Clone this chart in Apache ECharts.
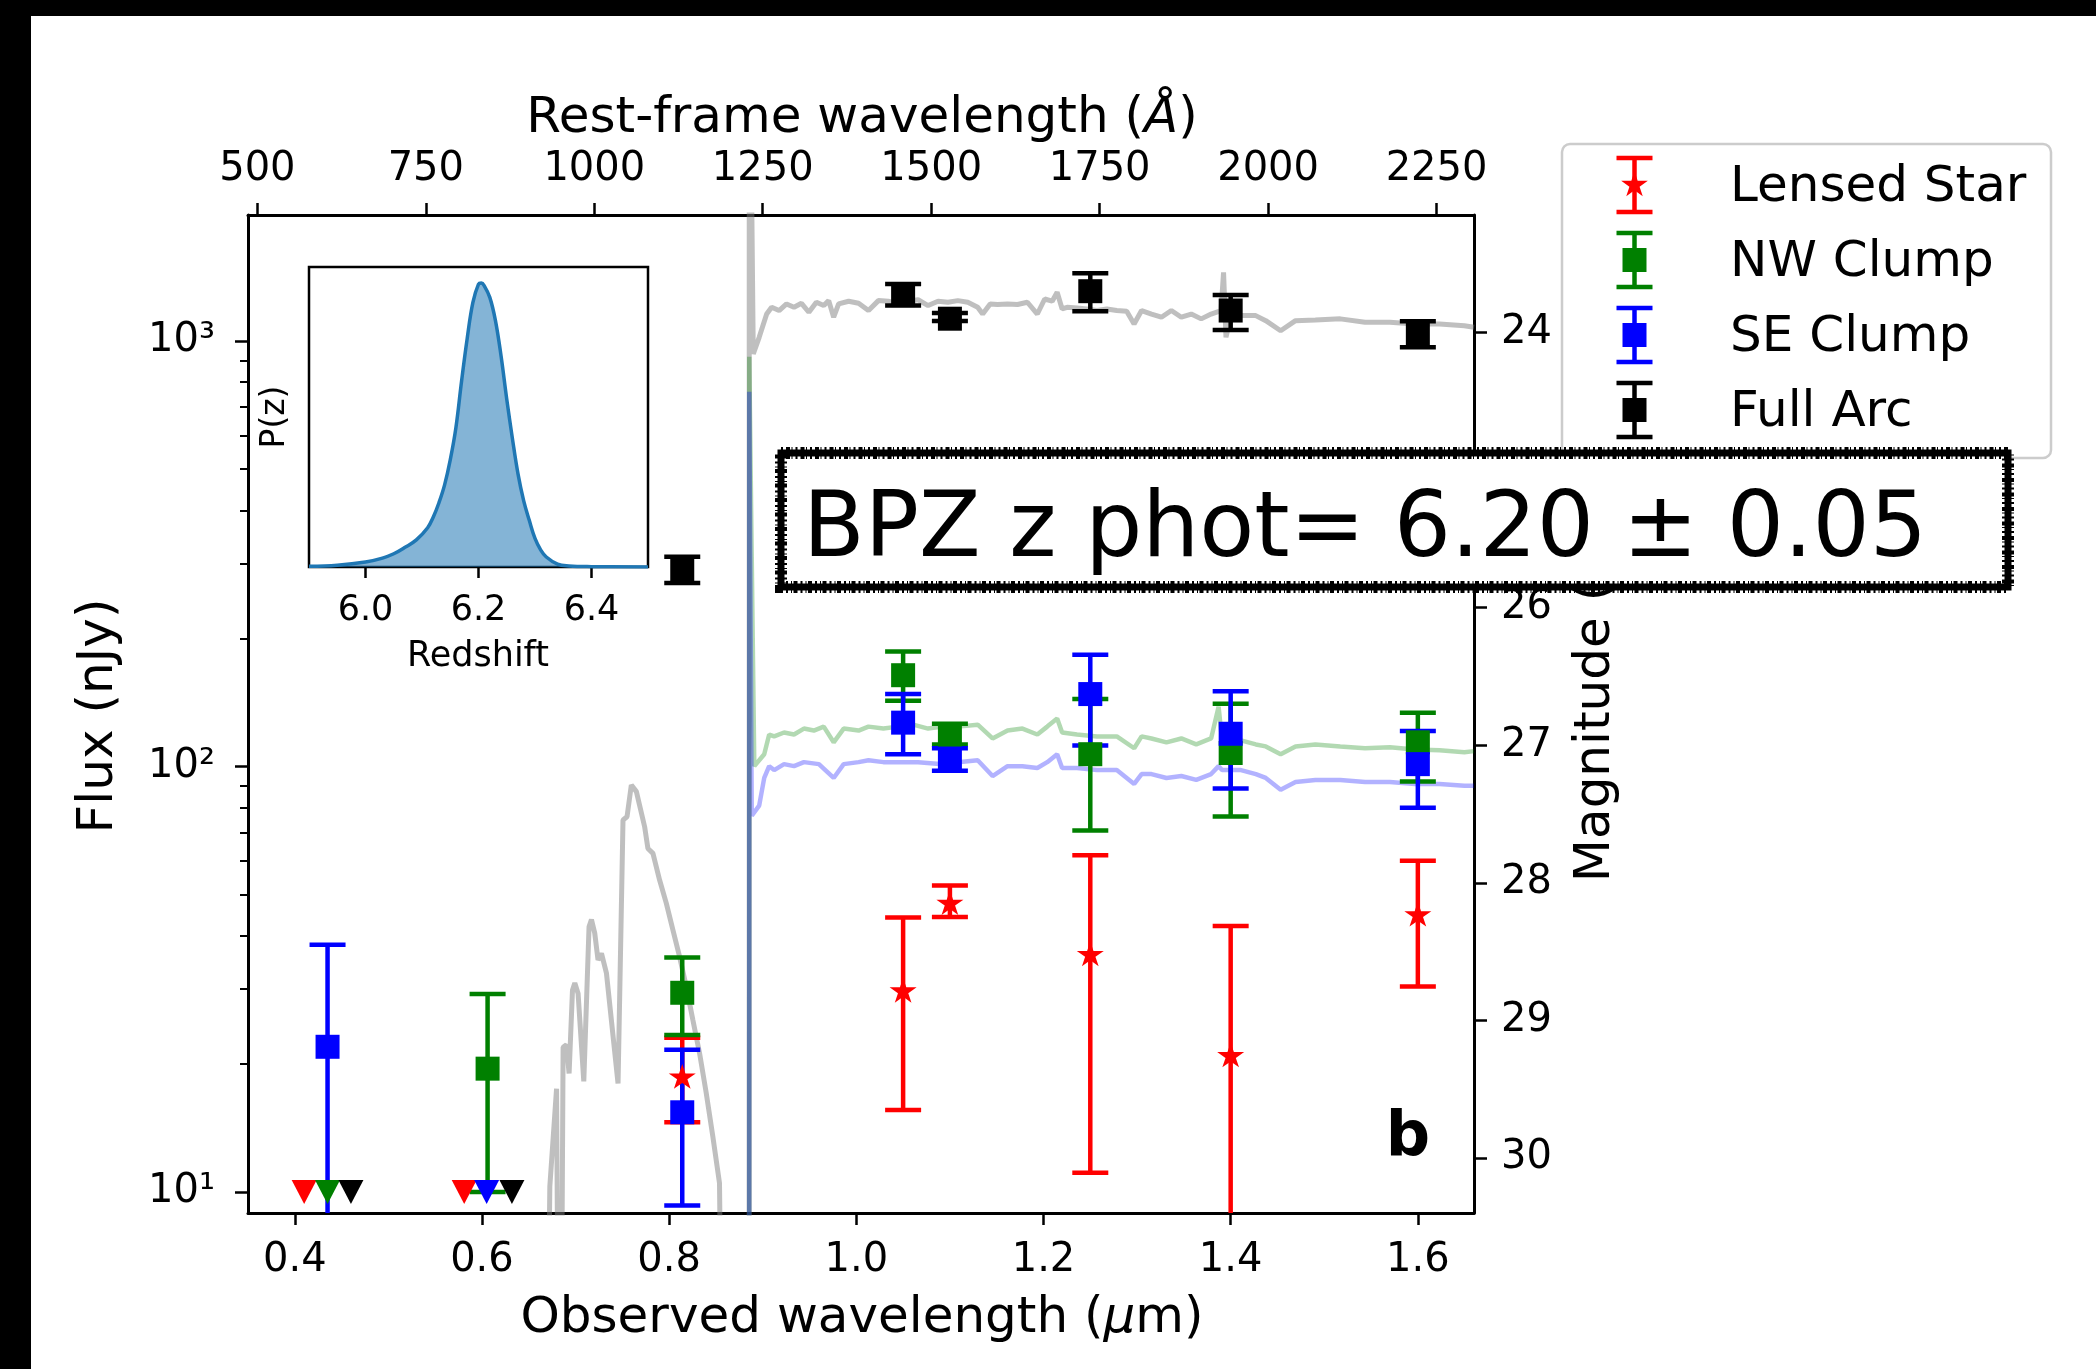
<!DOCTYPE html>
<html><head><meta charset="utf-8">
<script src="https://cdn.jsdelivr.net/npm/echarts@6/dist/echarts.min.js"></script>
<style>html,body{margin:0;padding:0;background:#fff;overflow:hidden;}#c{width:2096px;height:1369px;}</style>
</head><body><div id="c"></div>
<script>
// ---------------- DATA ----------------
const zPhot = 6.2;
const obsRange = [0.35, 1.66];          // observed wavelength (um)
const fluxRange = [8.93, 1977];         // nJy (log)
const magRange = [23.145, 30.40];       // AB mag (right axis, inverted)
const zRange = [5.9, 6.5];
const pzRange = [0, 8.4];

const xTicks = [0.4, 0.6, 0.8, 1.0, 1.2, 1.4, 1.6];
const restTicks = [500, 750, 1000, 1250, 1500, 1750, 2000, 2250];
const fluxTicks = [10, 100, 1000];
const fluxTickLabels = ['10¹', '10²', '10³'];
const fluxMinorTicks = [20, 30, 40, 50, 60, 70, 80, 90, 200, 300, 400, 500, 600, 700, 800, 900];
const magTicks = [24, 25, 26, 27, 28, 29, 30];
const zTicks = [6.0, 6.2, 6.4];

const seriesNames = ['Lensed Star', 'NW Clump', 'SE Clump', 'Full Arc'];

// Lensed Star
const starX  = [0.814, 1.05, 1.10, 1.25, 1.40, 1.60];
const starF  = [18.7, 29.8, 47.9, 36.3, 21.0, 45.0];
const starLo = [14.6, 15.6, 44.3, 11.1, 1.0, 30.4];
const starHi = [23.05, 44.2, 52.5, 61.9, 42.2, 60.1];
const starLimX = [0.410, 0.581];
const starLimF = [10, 10];

// NW Clump
const nwX  = [0.606, 0.814, 1.05, 1.10, 1.25, 1.40, 1.60];
const nwF  = [19.5, 29.4, 163.9, 118.9, 106.9, 107.6, 114.0];
const nwLo = [10.0, 23.4, 142.7, 112.7, 70.7, 76.3, 92.2];
const nwHi = [29.2, 35.6, 186.4, 126.0, 144.2, 140.4, 133.8];
const nwLimX = [0.435];
const nwLimF = [10];

// SE Clump
const seX  = [0.435, 0.814, 1.05, 1.10, 1.25, 1.40, 1.60];
const seF  = [21.95, 15.4, 126.8, 104.0, 148.0, 119.4, 101.3];
const seLo = [1.0, 9.3, 106.9, 97.7, 112.0, 88.8, 80.0];
const seHi = [38.1, 21.6, 148.0, 110.4, 183.2, 150.2, 121.2];
const seLimX = [0.605];
const seLimF = [10];

// Full Arc
const arcX  = [0.814, 1.05, 1.10, 1.25, 1.40, 1.60];
const arcF  = [290, 1282, 1128, 1309, 1179, 1039];
const arcLo = [270, 1211, 1114, 1174, 1061, 967];
const arcHi = [311, 1361, 1163, 1442, 1282, 1112];
const arcLimX = [0.460, 0.632];
const arcLimF = [10, 10];

// Best-fit model spectra [observed um, nJy]
const arcModel = [
[0.6672,1],[0.6725,10.3],[0.6797,17.5],[0.6832,1],[0.6867,21.9],[0.6903,22.2],[0.6931,19.0],[0.6967,29.8],[0.6992,31.0],[0.7027,29.3],[0.7088,18.2],[0.7144,42.0],[0.7170,43.7],[0.7205,40.6],[0.7240,35.1],[0.7277,36.4],[0.7330,32.7],[0.7454,18.0],[0.7507,74.9],[0.7550,76.2],[0.7596,90.5],[0.7650,87.3],[0.7738,72.2],[0.7773,64.2],[0.7827,62.5],[0.7898,54.1],[0.7970,47.7],[0.8040,41.3],[0.8112,35.7],[0.8183,30.4],[0.8253,25.4],[0.8325,21.2],[0.8396,17.1],[0.8467,13.5],[0.8538,10.5],[0.8591,1],[0.8855,1],[0.8856,8000],[0.8899,932],[0.8962,1020],[0.9042,1157],[0.9095,1200],[0.9175,1179],[0.9254,1222],[0.9334,1200],[0.9414,1226],[0.9493,1168],[0.9573,1233],[0.9652,1211],[0.9705,1244],[0.9758,1137],[0.9811,1222],[0.9918,1240],[1.0024,1226],[1.0130,1179],[1.0236,1244],[1.0342,1240],[1.0448,1222],[1.0554,1240],[1.0660,1250],[1.0767,1211],[1.0873,1240],[1.0979,1233],[1.1085,1244],[1.1191,1233],[1.1297,1200],[1.1350,1157],[1.1430,1222],[1.1509,1218],[1.1616,1222],[1.1722,1218],[1.1828,1233],[1.1934,1157],[1.2013,1255],[1.2093,1240],[1.2146,1302],[1.2199,1189],[1.2252,1200],[1.2358,1196],[1.2464,1189],[1.2570,1179],[1.2677,1189],[1.2783,1179],[1.2889,1175],[1.2968,1096],[1.3048,1179],[1.3154,1157],[1.3260,1137],[1.3366,1179],[1.3473,1137],[1.3579,1157],[1.3685,1127],[1.3791,1157],[1.3897,1179],[1.3924,1450],[1.3950,1020],[1.4003,1147],[1.4109,1147],[1.4268,1147],[1.4375,1116],[1.4534,1057],[1.4693,1116],[1.4905,1120],[1.5171,1127],[1.5436,1106],[1.5701,1106],[1.5967,1096],[1.6232,1096],[1.6497,1086],[1.6600,1077]
];
const nwModel = [
[0.8855,1],[0.8856,918],[0.8910,100.2],[0.9016,106.9],[0.9069,118.9],[0.9122,117.7],[0.9228,120.2],[0.9334,118.9],[0.9440,122.8],[0.9546,121.5],[0.9652,124.1],[0.9758,114.0],[0.9865,122.8],[1.0024,121.5],[1.0130,124.1],[1.0289,122.8],[1.0448,124.1],[1.0607,125.4],[1.0767,122.8],[1.0926,124.1],[1.1085,124.1],[1.1297,125.4],[1.1456,116.4],[1.1616,121.5],[1.1775,122.8],[1.1934,118.9],[1.2040,124.1],[1.2146,129.6],[1.2199,120.2],[1.2358,118.9],[1.2571,117.7],[1.2783,117.7],[1.2969,110.4],[1.3048,117.7],[1.3154,116.4],[1.3314,114.0],[1.3473,116.4],[1.3632,112.7],[1.3791,116.4],[1.3871,138.2],[1.3908,115.2],[1.4110,115.2],[1.4269,112.7],[1.4375,111.5],[1.4534,106.9],[1.4693,111.5],[1.4905,112.7],[1.5171,111.5],[1.5436,110.4],[1.5701,111.0],[1.5967,109.7],[1.6232,109.2],[1.6497,108.0],[1.6600,108.7]
];
const seModel = [
[0.8855,1],[0.8856,760],[0.8883,76.7],[0.8962,80.9],[0.9016,94.0],[0.9069,100.2],[0.9122,98.1],[0.9228,101.3],[0.9334,100.2],[0.9440,102.4],[0.9600,101.3],[0.9758,94.0],[0.9865,101.3],[1.0024,102.4],[1.0130,103.5],[1.0289,102.4],[1.0448,102.4],[1.0660,102.4],[1.0926,101.3],[1.1085,102.4],[1.1297,103.5],[1.1456,95.0],[1.1616,100.2],[1.1775,100.2],[1.1934,99.2],[1.2040,102.4],[1.2146,106.9],[1.2199,99.2],[1.2358,99.2],[1.2571,98.1],[1.2783,98.1],[1.2969,91.0],[1.3048,96.0],[1.3154,96.0],[1.3314,94.0],[1.3473,95.0],[1.3632,93.0],[1.3791,96.0],[1.3871,100.2],[1.3908,98.1],[1.4110,98.1],[1.4269,96.0],[1.4375,94.0],[1.4534,88.2],[1.4693,92.0],[1.4905,93.0],[1.5171,93.0],[1.5436,92.0],[1.5701,92.0],[1.5967,91.0],[1.6232,91.0],[1.6497,90.1],[1.6600,90.1]
];

// Inset P(z)
const pzZ = [5.90,5.95,6.00,6.03,6.05,6.07,6.09,6.11,6.12,6.13,6.14,6.15,6.16,6.17,6.18,6.19,6.20,6.205,6.21,6.22,6.23,6.24,6.25,6.26,6.27,6.28,6.29,6.30,6.31,6.32,6.34,6.36,6.40,6.50];
const pzP = [0.02,0.05,0.14,0.25,0.37,0.55,0.76,1.10,1.40,1.80,2.30,3.00,3.90,5.20,6.40,7.40,7.92,7.95,7.88,7.55,6.90,5.90,4.70,3.60,2.60,1.85,1.30,0.80,0.48,0.28,0.08,0.03,0.01,0.00];

// ---------------- STYLE ----------------
const FONT = 'DejaVu Sans';
const COLORS = ['#ff0000', '#008000', '#0000ff', '#000000'];
const CAP_HALF = 18, ERR_LW = 4.5;
const STAR_PATH = 'path://M50,0L61.23,34.55L97.55,34.55L68.17,55.9L79.39,90.45L50,69.1L20.61,90.45L31.83,55.9L2.45,34.55L38.77,34.55Z';
const G = {left: 248, top: 215, width: 1226, height: 998};
const GI = {left: 309, top: 267, width: 339, height: 300};
const axLine = {show: true, onZero: false, lineStyle: {color: '#000', width: 3}};
const tickStyle = {color: '#000', width: 2.5};

function errSeries(xs, ys, los, his, color) {
  return {
    type: 'custom', xAxisIndex: 0, yAxisIndex: 0, clip: true, z: 2, silent: true,
    data: xs.map((x, i) => [x, ys[i], los[i], his[i]]),
    encode: {x: 0, y: 1},
    renderItem: (params, api) => {
      const x = api.value(0);
      const pLo = api.coord([x, api.value(2)]);
      const pHi = api.coord([x, api.value(3)]);
      const st = {stroke: color, lineWidth: ERR_LW};
      return {type: 'group', children: [
        {type: 'line', shape: {x1: pLo[0], y1: pLo[1], x2: pHi[0], y2: pHi[1]}, style: st},
        {type: 'line', shape: {x1: pLo[0] - CAP_HALF, y1: pLo[1], x2: pLo[0] + CAP_HALF, y2: pLo[1]}, style: st},
        {type: 'line', shape: {x1: pHi[0] - CAP_HALF, y1: pHi[1], x2: pHi[0] + CAP_HALF, y2: pHi[1]}, style: st}
      ]};
    }
  };
}
function markSeries(xs, ys, color, symbol, size, rot) {
  return {type: 'scatter', xAxisIndex: 0, yAxisIndex: 0, z: 3, silent: true,
    symbol: symbol, symbolSize: size, symbolRotate: rot || 0, symbolKeepAspect: true,
    itemStyle: {color: color, opacity: 1},
    data: xs.map((x, i) => [x, ys[i]])};
}
function modelSeries(data, color, w) {
  return {type: 'line', xAxisIndex: 0, yAxisIndex: 0, z: 1, silent: true, symbol: 'none',
    clip: true, lineStyle: {color: color, width: w}, data: data};
}
function starPts(cx, cy, R) {
  const pts = [];
  for (let k = 0; k < 10; k++) {
    const r = k % 2 === 0 ? R : R * 0.382;
    const a = Math.PI / 2 + k * Math.PI / 5;
    pts.push([cx + r * Math.cos(a), cy - r * Math.sin(a)]);
  }
  return pts;
}

// legend graphic
const legendEls = [{type: 'rect', z: 50, shape: {x: 1562, y: 144, width: 489, height: 314, r: 8},
  style: {fill: 'rgba(255,255,255,0.8)', stroke: '#cccccc', lineWidth: 2.5}}];
seriesNames.forEach((nm, i) => {
  const cy = 185 + 75 * i, cx = 1634.5, c = COLORS[i];
  const st = {stroke: c, lineWidth: ERR_LW};
  legendEls.push({type: 'line', z: 51, shape: {x1: cx, y1: cy - 27, x2: cx, y2: cy + 27}, style: st});
  legendEls.push({type: 'line', z: 51, shape: {x1: cx - CAP_HALF, y1: cy - 27, x2: cx + CAP_HALF, y2: cy - 27}, style: st});
  legendEls.push({type: 'line', z: 51, shape: {x1: cx - CAP_HALF, y1: cy + 27, x2: cx + CAP_HALF, y2: cy + 27}, style: st});
  if (i === 0) legendEls.push({type: 'polygon', z: 52, shape: {points: starPts(cx, cy, 14)}, style: {fill: c}});
  else legendEls.push({type: 'rect', z: 52, shape: {x: cx - 12, y: cy - 12, width: 24, height: 24}, style: {fill: c}});
  legendEls.push({type: 'text', z: 52, x: 1730, y: cy + 3, style: {text: nm, fontSize: 50, fontFamily: FONT, fill: '#000', textAlign: 'left', textVerticalAlign: 'middle'}});
});

const italic = {i: {fontStyle: 'italic', fontSize: 50, fontFamily: FONT, fill: '#000'}};
const option = {
  animation: false,
  backgroundColor: '#fff',
  textStyle: {fontFamily: FONT},
  grid: [
    Object.assign({show: false, outerBoundsMode: 'none', containLabel: false}, G),
    Object.assign({show: true, backgroundColor: '#fff', borderColor: '#000', borderWidth: 2.5, outerBoundsMode: 'none', containLabel: false}, GI)
  ],
  xAxis: [
    {gridIndex: 0, type: 'value', position: 'bottom', min: obsRange[0], max: obsRange[1],
     axisLine: axLine, splitLine: {show: false},
     axisTick: {show: true, length: 12, customValues: xTicks, lineStyle: tickStyle},
     axisLabel: {customValues: xTicks, formatter: v => v.toFixed(1), fontSize: 40, color: '#000', fontFamily: FONT, margin: 28}},
    {gridIndex: 0, type: 'value', position: 'top', min: obsRange[0] * 1e4 / (1 + zPhot), max: obsRange[1] * 1e4 / (1 + zPhot),
     axisLine: axLine, splitLine: {show: false},
     axisTick: {show: true, length: 12, customValues: restTicks, lineStyle: tickStyle},
     axisLabel: {customValues: restTicks, formatter: v => String(Math.round(v)), fontSize: 40, color: '#000', fontFamily: FONT, margin: 25}},
    {gridIndex: 1, type: 'value', position: 'bottom', min: zRange[0], max: zRange[1],
     axisLine: {show: false}, splitLine: {show: false},
     axisTick: {show: true, length: 11, customValues: zTicks, lineStyle: tickStyle},
     axisLabel: {customValues: zTicks, formatter: v => v.toFixed(1), fontSize: 35, color: '#000', fontFamily: FONT, margin: 26}}
  ],
  yAxis: [
    {gridIndex: 0, type: 'log', logBase: 10, position: 'left', min: fluxRange[0], max: fluxRange[1],
     axisLine: axLine, splitLine: {show: false}, minorTick: {show: false},
     axisTick: {show: true, length: 13, customValues: fluxTicks, lineStyle: tickStyle},
     axisLabel: {customValues: fluxTicks, fontSize: 40, color: '#000', fontFamily: FONT, margin: 33,
       formatter: v => { const k = fluxTicks.findIndex(t => Math.abs(t - v) / t < 1e-6); return k >= 0 ? fluxTickLabels[k] : ''; }}},
    {gridIndex: 0, type: 'log', logBase: 10, position: 'left', min: fluxRange[0], max: fluxRange[1],
     axisLine: {show: false}, splitLine: {show: false}, axisLabel: {show: false},
     axisTick: {show: true, length: 8, customValues: fluxMinorTicks, lineStyle: {color: '#000', width: 2}}},
    {gridIndex: 0, type: 'value', position: 'right', inverse: true, min: magRange[0], max: magRange[1],
     axisLine: axLine, splitLine: {show: false},
     axisTick: {show: true, length: 13, customValues: magTicks, lineStyle: tickStyle},
     axisLabel: {customValues: magTicks, formatter: v => String(Math.round(v)), fontSize: 40, color: '#000', fontFamily: FONT, margin: 27}},
    {gridIndex: 1, type: 'value', min: pzRange[0], max: pzRange[1],
     axisLine: {show: false}, axisTick: {show: false}, axisLabel: {show: false}, splitLine: {show: false}}
  ],
  series: [
    modelSeries(arcModel, 'rgba(128,128,128,0.5)', 5),
    modelSeries(nwModel, 'rgba(0,128,0,0.3)', 4.5),
    modelSeries(seModel, 'rgba(0,0,255,0.3)', 4.5),
    errSeries(starX, starF, starLo, starHi, COLORS[0]),
    errSeries(nwX, nwF, nwLo, nwHi, COLORS[1]),
    errSeries(seX, seF, seLo, seHi, COLORS[2]),
    errSeries(arcX, arcF, arcLo, arcHi, COLORS[3]),
    markSeries(starX, starF, COLORS[0], STAR_PATH, [27, 26]),
    markSeries(nwX, nwF, COLORS[1], 'rect', 24),
    markSeries(seX, seF, COLORS[2], 'rect', 24),
    markSeries(arcX, arcF, COLORS[3], 'rect', 24),
    markSeries(starLimX, starLimF, COLORS[0], 'triangle', [25, 24], 180),
    markSeries(nwLimX, nwLimF, COLORS[1], 'triangle', [25, 24], 180),
    markSeries(seLimX, seLimF, COLORS[2], 'triangle', [25, 24], 180),
    markSeries(arcLimX, arcLimF, COLORS[3], 'triangle', [25, 24], 180),
    {type: 'line', xAxisIndex: 2, yAxisIndex: 3, z: 4, silent: true, symbol: 'none', smooth: 0.4,
     lineStyle: {color: '#1f77b4', width: 3.5}, areaStyle: {color: 'rgba(31,119,180,0.55)', opacity: 1, origin: 'start'},
     data: pzZ.map((z, i) => [z, pzP[i]])}
  ],
  graphic: [
    {type: 'rect', z: 300, shape: {x: 0, y: 0, width: 2096, height: 16}, style: {fill: '#000'}},
    {type: 'rect', z: 300, shape: {x: 0, y: 0, width: 31, height: 1369}, style: {fill: '#000'}},
    {type: 'text', z: 10, x: 862, y: 119, style: {text: 'Rest-frame wavelength ({i|Å})', rich: italic, fontSize: 50, fontFamily: FONT, fill: '#000', textAlign: 'center', textVerticalAlign: 'middle'}},
    {type: 'text', z: 10, x: 862, y: 1319, style: {text: 'Observed wavelength ({i|μ}m)', rich: italic, fontSize: 50, fontFamily: FONT, fill: '#000', textAlign: 'center', textVerticalAlign: 'middle'}},
    {type: 'text', z: 10, x: 99, y: 716, rotation: Math.PI / 2, style: {text: 'Flux (nJy)', fontSize: 50, fontFamily: FONT, fill: '#000', textAlign: 'center', textVerticalAlign: 'middle'}},
    {type: 'text', z: 10, x: 1596, y: 688, rotation: Math.PI / 2, style: {text: 'Magnitude (AB)', fontSize: 50, fontFamily: FONT, fill: '#000', textAlign: 'center', textVerticalAlign: 'middle'}},
    {type: 'text', z: 10, x: 478, y: 657, style: {text: 'Redshift', fontSize: 35, fontFamily: FONT, fill: '#000', textAlign: 'center', textVerticalAlign: 'middle'}},
    {type: 'text', z: 10, x: 275, y: 417, rotation: Math.PI / 2, style: {text: 'P(z)', fontSize: 33, fontFamily: FONT, fill: '#000', textAlign: 'center', textVerticalAlign: 'middle'}},
    {type: 'text', z: 10, x: 1408, y: 1139, style: {text: 'b', fontSize: 62, fontWeight: 'bold', fontFamily: FONT, fill: '#000', textAlign: 'center', textVerticalAlign: 'middle'}},
    ...legendEls,
    {type: 'rect', z: 200, shape: {x: 781, y: 453, width: 1227, height: 134}, style: {fill: '#fff', stroke: '#000', lineWidth: 7}},
    {type: 'rect', z: 201, shape: {x: 781, y: 453, width: 1227, height: 134}, style: {fill: 'transparent', stroke: '#000', lineWidth: 12, lineDash: [2, 3, 4, 1.5, 1, 3]}},
    {type: 'text', z: 202, x: 803, y: 533, style: {text: 'BPZ z phot= 6.20 ± 0.05', fontSize: 90, fontWeight: 'normal', fontFamily: FONT, fill: '#000', textAlign: 'left', textVerticalAlign: 'middle'}}
  ]
};
const chart = echarts.init(document.getElementById('c'), null, {renderer: 'canvas', width: 2096, height: 1369});
chart.setOption(option);
</script></body></html>
